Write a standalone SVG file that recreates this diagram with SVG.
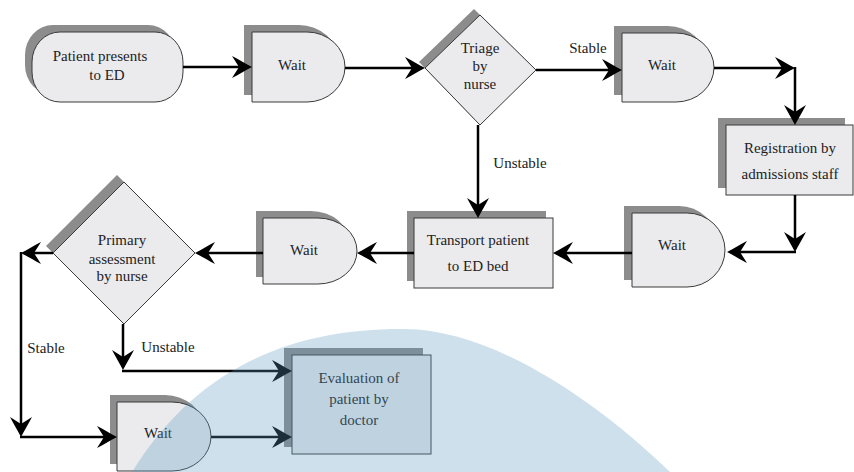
<svg xmlns="http://www.w3.org/2000/svg" width="854" height="472" viewBox="0 0 854 472">
<defs>
<style>
.sh{fill:#8c8c8c;stroke:none}
.nd{fill:#ebebee;stroke:#3a3a3a;stroke-width:1}
.t{font-family:"Liberation Serif","Times New Roman",serif;font-size:15px;fill:#222;text-anchor:middle}
.c{fill:none;stroke:#000;stroke-width:2.5}
</style>
<marker id="ah" markerUnits="userSpaceOnUse" viewBox="-20 -12 24 24" markerWidth="24" markerHeight="24" refX="0" refY="0" orient="auto">
<path d="M3,0 C-3,-3 -11,-8 -17,-11 L-10,0 L-17,11 C-11,8 -3,3 3,0 Z" fill="#000"/>
</marker>
</defs>
<rect width="854" height="472" fill="#fff"/>

<g id="n1">
<rect class="sh" x="25" y="25" width="151" height="70" rx="28" ry="30"/>
<rect class="nd" x="32" y="32" width="151" height="70" rx="28" ry="30"/>
<text class="t" x="100" y="61">Patient presents</text>
<text class="t" x="107" y="80">to ED</text>
</g>

<g id="n2">
<path class="sh" d="M244,25 H299 A39,35 0 0 1 299,95 H244 Z"/>
<path class="nd" d="M252,32 H307 A38,35 0 0 1 307,102 H252 Z"/>
<text class="t" x="292" y="70">Wait</text>
</g>

<g id="n3">
<polygon class="sh" points="419,62 474,9 530,64 474,119"/>
<polygon class="nd" points="425,68 480,15 536,70 480,125"/>
<text class="t" x="480" y="53">Triage</text>
<text class="t" x="480" y="71">by</text>
<text class="t" x="480" y="89">nurse</text>
</g>

<g id="n4">
<path class="sh" d="M614,26 H668 A38,34.5 0 0 1 668,95 H614 Z"/>
<path class="nd" d="M622,33 H676 A38,34.5 0 0 1 676,102 H622 Z"/>
<text class="t" x="662" y="70">Wait</text>
</g>

<g id="n5">
<rect class="sh" x="718" y="118" width="127" height="70"/>
<rect class="nd" x="726" y="125" width="127" height="70"/>
<text class="t" x="790" y="153">Registration by</text>
<text class="t" x="790" y="179">admissions staff</text>
</g>

<g id="n6">
<path class="sh" d="M624,206 H679 A38,37 0 0 1 679,280 H624 Z"/>
<path class="nd" d="M632,213 H687 A38,37 0 0 1 687,287 H632 Z"/>
<text class="t" x="672" y="250">Wait</text>
</g>

<g id="n7">
<rect class="sh" x="407" y="211" width="139" height="70"/>
<rect class="nd" x="414" y="218" width="139" height="70"/>
<text class="t" x="478" y="245">Transport patient</text>
<text class="t" x="478" y="271">to ED bed</text>
</g>

<g id="n8">
<path class="sh" d="M256,211 H311 A39,33 0 0 1 311,277 H256 Z"/>
<path class="nd" d="M263,218 H318 A39,33 0 0 1 318,284 H263 Z"/>
<text class="t" x="304" y="255">Wait</text>
</g>

<g id="n9">
<polygon class="sh" points="46,246 117,175 188,246 117,317"/>
<polygon class="nd" points="53,253 124,182 195,253 124,324"/>
<text class="t" x="122" y="245">Primary</text>
<text class="t" x="122" y="264">assessment</text>
<text class="t" x="122" y="281">by nurse</text>
</g>

<g id="n10">
<path class="sh" d="M110,395 H165 A39,34.5 0 0 1 165,464 H110 Z"/>
<path class="nd" d="M117,402 H172 A39,34.5 0 0 1 172,471 H117 Z"/>
<text class="t" x="158" y="438">Wait</text>
</g>

<g id="n11">
<rect class="sh" x="284" y="348" width="139" height="99"/>
<rect class="nd" x="292" y="355" width="139" height="99"/>
<text class="t" x="359" y="383">Evaluation of</text>
<text class="t" x="359" y="404">patient by</text>
<text class="t" x="359" y="425">doctor</text>
</g>

<g id="connectors">
<line class="c" x1="183" y1="67" x2="249" y2="67" marker-end="url(#ah)"/>
<line class="c" x1="345" y1="68" x2="422" y2="68" marker-end="url(#ah)"/>
<line class="c" x1="536" y1="70" x2="619" y2="70" marker-end="url(#ah)"/>
<text class="t" x="588" y="53">Stable</text>
<line class="c" x1="714" y1="68" x2="792" y2="68" marker-end="url(#ah)"/>
<line class="c" x1="795" y1="67" x2="795" y2="122" marker-end="url(#ah)"/>
<line class="c" x1="795" y1="195" x2="795" y2="249" marker-end="url(#ah)"/>
<line class="c" x1="796" y1="252" x2="730" y2="252" marker-end="url(#ah)"/>
<line class="c" x1="632" y1="253" x2="556" y2="253" marker-end="url(#ah)"/>
<line class="c" x1="478" y1="125" x2="478" y2="215" marker-end="url(#ah)"/>
<text class="t" x="520" y="168">Unstable</text>
<line class="c" x1="414" y1="253" x2="360" y2="253" marker-end="url(#ah)"/>
<line class="c" x1="263" y1="253" x2="198" y2="253" marker-end="url(#ah)"/>
<line class="c" x1="53" y1="253" x2="24" y2="253" marker-end="url(#ah)"/>
<line class="c" x1="21" y1="252" x2="21" y2="434" marker-end="url(#ah)"/>
<text class="t" x="46" y="353">Stable</text>
<line class="c" x1="20" y1="437" x2="114" y2="437" marker-end="url(#ah)"/>
<line class="c" x1="123" y1="324" x2="123" y2="367" marker-end="url(#ah)"/>
<text class="t" x="168" y="352">Unstable</text>
<line class="c" x1="122" y1="371" x2="289" y2="371" marker-end="url(#ah)"/>
<line class="c" x1="211" y1="437" x2="289" y2="437" marker-end="url(#ah)"/>
</g>

<path d="M132,472 C200,362 300,328 405,329 C490,330 590,395 670,472 Z" fill="#5898c0" fill-opacity="0.3"/>
</svg>
